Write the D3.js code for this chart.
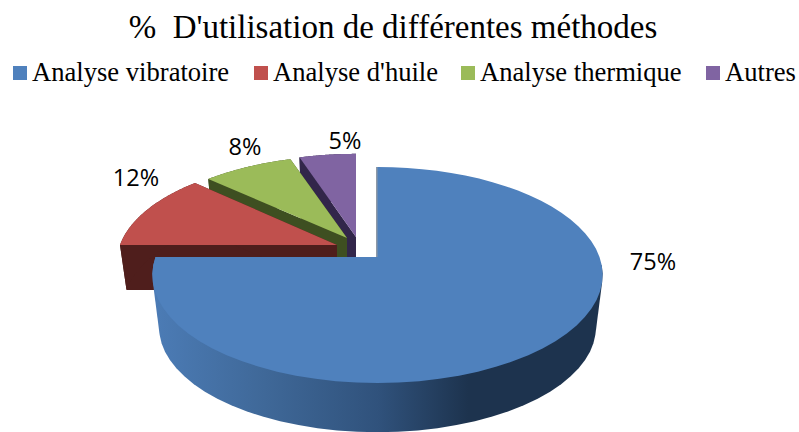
<!DOCTYPE html>
<html>
<head>
<meta charset="utf-8" />
<style>
  body { margin: 0; background: #fff; }
  svg { display: block; }
</style>
</head>
<body>
<div id="chart"></div>
<script src="https://d3js.org/d3.v7.min.js"></script>
<script>
  const categories = ['Analyse vibratoire', "Analyse d'huile", 'Analyse thermique', 'Autres'];
  const percents = [75, 12, 8, 5];
  const titleText = "%\u00a0\u00a0D'utilisation de différentes méthodes";

  const topColors = ['#4f81bd', '#c0504d', '#9bbb59', '#8064a2'];
  const wallColors = ['#1d334e', '#4f1e1c', '#3e4f21', '#32264a'];

  // each slice is pulled out of the pie, so each gets its own apex and size
  const sliceLayout = [
    { cx: 377.5, cy: 257, a: 222, b: 105, depth: 53 },
    { cx: 337, cy: 245, a: 217, b: 101, depth: 45 },
    { cx: 347, cy: 238, a: 212, b: 96, depth: 45 },
    { cx: 356, cy: 237, a: 212, b: 97, depth: 45 },
  ];
  const labelLayout = [
    { x: 653, y: 270 },
    { x: 136, y: 186 },
    { x: 245, y: 155 },
    { x: 345, y: 149 },
  ];
  const legendLayout = [13, 254, 461, 706];

  const width = 799,
    height = 432,
    perspective = 1 / 6,
    bottomScale = 0.97;

  const svg = d3.select('#chart').append('svg').attr('width', width).attr('height', height);
  const color = d3.scaleOrdinal().domain(categories).range(topColors);
  const wallColor = d3.scaleOrdinal().domain(categories).range(wallColors);

  const defs = svg.append('defs');
  const blueWall = defs
    .append('linearGradient')
    .attr('id', 'blueWall')
    .attr('gradientUnits', 'userSpaceOnUse')
    .attr('x1', 152)
    .attr('x2', 604)
    .attr('y1', 0)
    .attr('y2', 0);
  [
    [0, '#4c7cb6'],
    [0.25, '#3f6898'],
    [0.5, '#30527c'],
    [0.7, '#1d334e'],
    [1, '#1d334e'],
  ].forEach((s) => blueWall.append('stop').attr('offset', s[0]).attr('stop-color', s[1]));

  // disc point -> screen, far side shrinks
  function project(l, angle, r, lower) {
    const u = r * Math.sin(angle),
      v = -r * Math.cos(angle),
      w = 1 - perspective * v,
      s = lower ? bottomScale : 1;
    return [l.cx + (s * l.a * u) / w, l.cy + (lower ? l.depth : 0) + (s * l.b * v) / w];
  }

  function arcAngles(d) {
    return d3.range(0, 61).map((i) => d.startAngle + ((d.endAngle - d.startAngle) * i) / 60);
  }

  const line = d3.line().curve(d3.curveLinearClosed);

  const slices = d3
    .pie()
    .sort(null)
    .startAngle(0)
    .endAngle(2 * Math.PI)(percents)
    .map((d, i) => ({ ...d, name: categories[i], layout: sliceLayout[i], index: i }));

  // back slices first, the big blue one has to cover the others
  const order = slices.slice().reverse();
  const gPie = svg.append('g');

  order.forEach((d) => {
    const l = d.layout;
    const g = gPie.append('g').attr('class', 'slice');
    const isBlue = d.index === 0;
    const angles = arcAngles(d);
    if (isBlue) {
      // hull keeps the sides straight from the top rim down to the bottom rim
      const front = angles.filter((a) => a >= Math.PI / 2);
      const rim = front.map((a) => project(l, a, 1, false)).concat(front.map((a) => project(l, a, 1, true)));
      g.append('path').attr('d', line(d3.polygonHull(rim))).attr('fill', 'url(#blueWall)');
      g.append('path')
        .attr('d', d3.line()([project(l, d.startAngle, 0, false), project(l, d.startAngle, 1, false)]))
        .attr('transform', 'translate(-0.5,0)')
        .attr('stroke', wallColor(d.name))
        .attr('stroke-width', 1)
        .attr('fill', 'none');
    } else {
      [d.startAngle, d.endAngle].forEach((angle) => {
        g.append('path')
          .attr(
            'd',
            line([
              project(l, angle, 0, false),
              project(l, angle, 1, false),
              project(l, angle, 1, true),
              project(l, angle, 0, true),
            ])
          )
          .attr('fill', wallColor(d.name));
      });
      g.append('path')
        .attr(
          'd',
          line(angles.map((a) => project(l, a, 1, false)).concat(angles.slice().reverse().map((a) => project(l, a, 1, true))))
        )
        .attr('fill', wallColor(d.name));
    }
    g.append('path')
      .attr('d', line([project(l, 0, 0, false)].concat(angles.map((a) => project(l, a, 1, false)))))
      .attr('fill', color(d.name));
  });

  svg
    .append('text')
    .attr('x', 393)
    .attr('y', 38)
    .attr('text-anchor', 'middle')
    .attr('font-family', 'Liberation Serif')
    .attr('font-size', 33)
    .attr('fill', '#000')
    .text(titleText);

  const legend = svg
    .selectAll('.legend')
    .data(categories)
    .enter()
    .append('g')
    .attr('class', 'legend')
    .attr('transform', (d, i) => 'translate(' + legendLayout[i] + ',66)');
  legend
    .append('rect')
    .attr('width', 14)
    .attr('height', 14)
    .attr('fill', (d) => color(d));
  legend
    .append('text')
    .attr('x', 19)
    .attr('y', 15)
    .attr('font-family', 'Liberation Serif')
    .attr('font-size', 26.6)
    .attr('fill', '#000')
    .text((d) => d);

  svg
    .selectAll('.pct')
    .data(percents)
    .enter()
    .append('text')
    .attr('class', 'pct')
    .attr('x', (d, i) => labelLayout[i].x)
    .attr('y', (d, i) => labelLayout[i].y)
    .attr('text-anchor', 'middle')
    .attr('font-family', 'Open Sans')
    .attr('font-size', 23.5)
    .attr('fill', '#000')
    .text((d) => d + '%');
</script>
</body>
</html>
